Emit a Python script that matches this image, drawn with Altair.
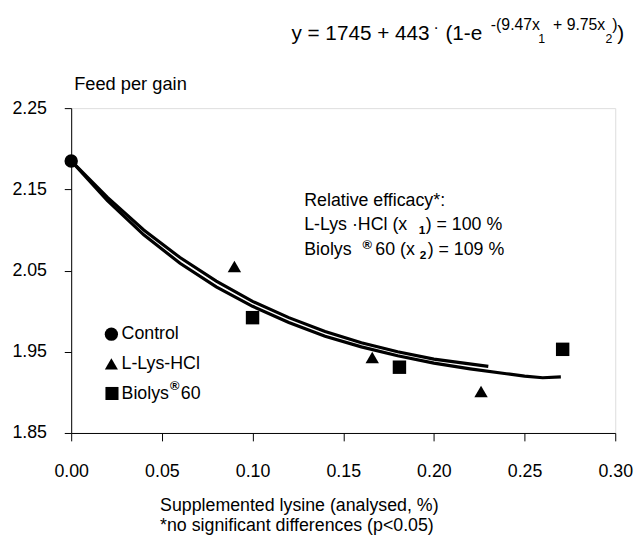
import altair as alt
import pandas as pd

# ---- observed means ----
control_x = [0.000]
control_y = [2.185]
lys_x = [0.090, 0.166, 0.226]
lys_y = [2.055, 1.943, 1.901]
bio_x = [0.100, 0.181, 0.271]
bio_y = [1.992, 1.931, 1.953]

# ---- fitted curves ----
fit_lys_x = [0.00, 0.02, 0.04, 0.06, 0.08, 0.10, 0.12, 0.14, 0.16, 0.18, 0.20, 0.23]
fit_lys_y = [2.185, 2.140, 2.100, 2.066, 2.037, 2.012, 1.992, 1.975, 1.961, 1.950, 1.941, 1.932]
fit_bio_x = [0.00, 0.02, 0.04, 0.06, 0.08, 0.10, 0.12, 0.14, 0.16, 0.18, 0.20, 0.22, 0.24, 0.25, 0.26, 0.27]
fit_bio_y = [2.185, 2.136, 2.094, 2.059, 2.030, 2.006, 1.986, 1.969, 1.956, 1.945, 1.936, 1.929, 1.923, 1.920, 1.918, 1.919]

x_ticks = [0.00, 0.05, 0.10, 0.15, 0.20, 0.25, 0.30]
y_ticks = [1.85, 1.95, 2.05, 2.15, 2.25]

FONT = "Liberation Sans"
X0, Y0 = 72, 106  # page position of plot origin (top-left)

pts = pd.DataFrame({
    "x": control_x + lys_x + bio_x,
    "y": control_y + lys_y + bio_y,
    "g": ["Control"] * len(control_x) + ["L-Lys-HCl"] * len(lys_x) + ["Biolys60"] * len(bio_x),
})
fits = pd.DataFrame({
    "x": fit_lys_x + fit_bio_x,
    "y": fit_lys_y + fit_bio_y,
    "g": ["L-Lys-HCl"] * len(fit_lys_x) + ["Biolys60"] * len(fit_bio_x),
})

xs = alt.Scale(domain=[0, 0.30], nice=False, zero=False)
ys = alt.Scale(domain=[1.85, 2.25], nice=False, zero=False)

xax = alt.Axis(values=x_ticks, format=".2f", title=None, grid=False, tickSize=8,
               labelPadding=22, labelFontSize=18, labelFont=FONT, labelColor="black",
               domainColor="black", tickColor="black", labelFlush=False)
yax = alt.Axis(values=y_ticks, format=".2f", title=None, grid=False, tickSize=7,
               labelPadding=18, labelFontSize=18, labelFont=FONT, labelColor="black",
               domainColor="black", tickColor="black")

lines = alt.Chart(fits).mark_line(color="black", strokeWidth=3.2).encode(
    x=alt.X("x:Q", scale=xs, axis=xax),
    y=alt.Y("y:Q", scale=ys, axis=yax),
    detail="g:N",
)

points = alt.Chart(pts).mark_point(filled=True, opacity=1, color="black", size=185).encode(
    x=alt.X("x:Q", scale=xs),
    y=alt.Y("y:Q", scale=ys),
    shape=alt.Shape("g:N", scale=alt.Scale(domain=["Control", "L-Lys-HCl", "Biolys60"],
                                           range=["circle", "triangle-up", "square"]), legend=None),
)

one = pd.DataFrame({"a": [0]})


def txt(s, x, y, size=18, weight="normal"):
    return alt.Chart(one).mark_text(text=s, fontSize=size, fontWeight=weight, align="left",
                                    baseline="alphabetic", font=FONT, color="black").encode(
        x=alt.value(x - X0), y=alt.value(y - Y0))


def sym(shape, x, y, size=180):
    return alt.Chart(one).mark_point(shape=shape, filled=True, opacity=1, color="black", size=size).encode(
        x=alt.value(x - X0), y=alt.value(y - Y0))


layers = [lines, points]

# equation
layers += [
    txt("y = 1745 + 443", 295, 37, 21),
    txt("·", 439, 30, 16),
    txt("(1-e", 451, 37, 21),
    txt("-(9.47x", 497, 27, 16),
    txt("1", 545, 40, 12.5),
    txt("+ 9.75x", 560, 27, 16),
    txt("2", 613, 40, 12.5),
    txt(")", 620, 27, 16),
    txt(")", 625, 37, 21),
]
# y title
layers += [txt("Feed per gain", 75, 88, 18.5)]
# efficacy box
layers += [
    txt("Relative efficacy*:", 308, 205),
    txt("L-Lys ·HCl (x", 308, 229.5),
    txt("1", 424, 233.5, 12, "bold"),
    txt(") = 100 %", 431, 229.5),
    txt("Biolys", 308, 254.5),
    txt("®", 367, 248.5, 13, "bold"),
    txt("60 (x", 380, 254.5),
    txt("2", 425, 258.5, 12, "bold"),
    txt(") = 109 %", 433, 254.5),
]
# legend
layers += [
    sym("circle", 112.7, 335, 180), txt("Control", 123, 340),
    sym("triangle-up", 112.7, 365, 175), txt("L-Lys-HCl", 123, 370),
    sym("square", 113.3, 395, 175), txt("Biolys", 123, 400.5),
    txt("®", 172, 391.5, 13, "bold"), txt("60", 183, 400.5),
]
# x title lines
layers += [
    txt("Supplemented lysine (analysed, %)", 162, 514),
    txt("*no significant differences (p<0.05)", 162, 534),
]

chart = alt.layer(*layers).properties(
    width=551, height=329,
    autosize=alt.AutoSizeParams(type="none"),
    padding={"left": 64, "top": 98, "right": 20, "bottom": 106},
).configure_view(stroke=None).configure(background="white")

chart.save("out.html", embed_options={"renderer": "svg", "actions": False})
